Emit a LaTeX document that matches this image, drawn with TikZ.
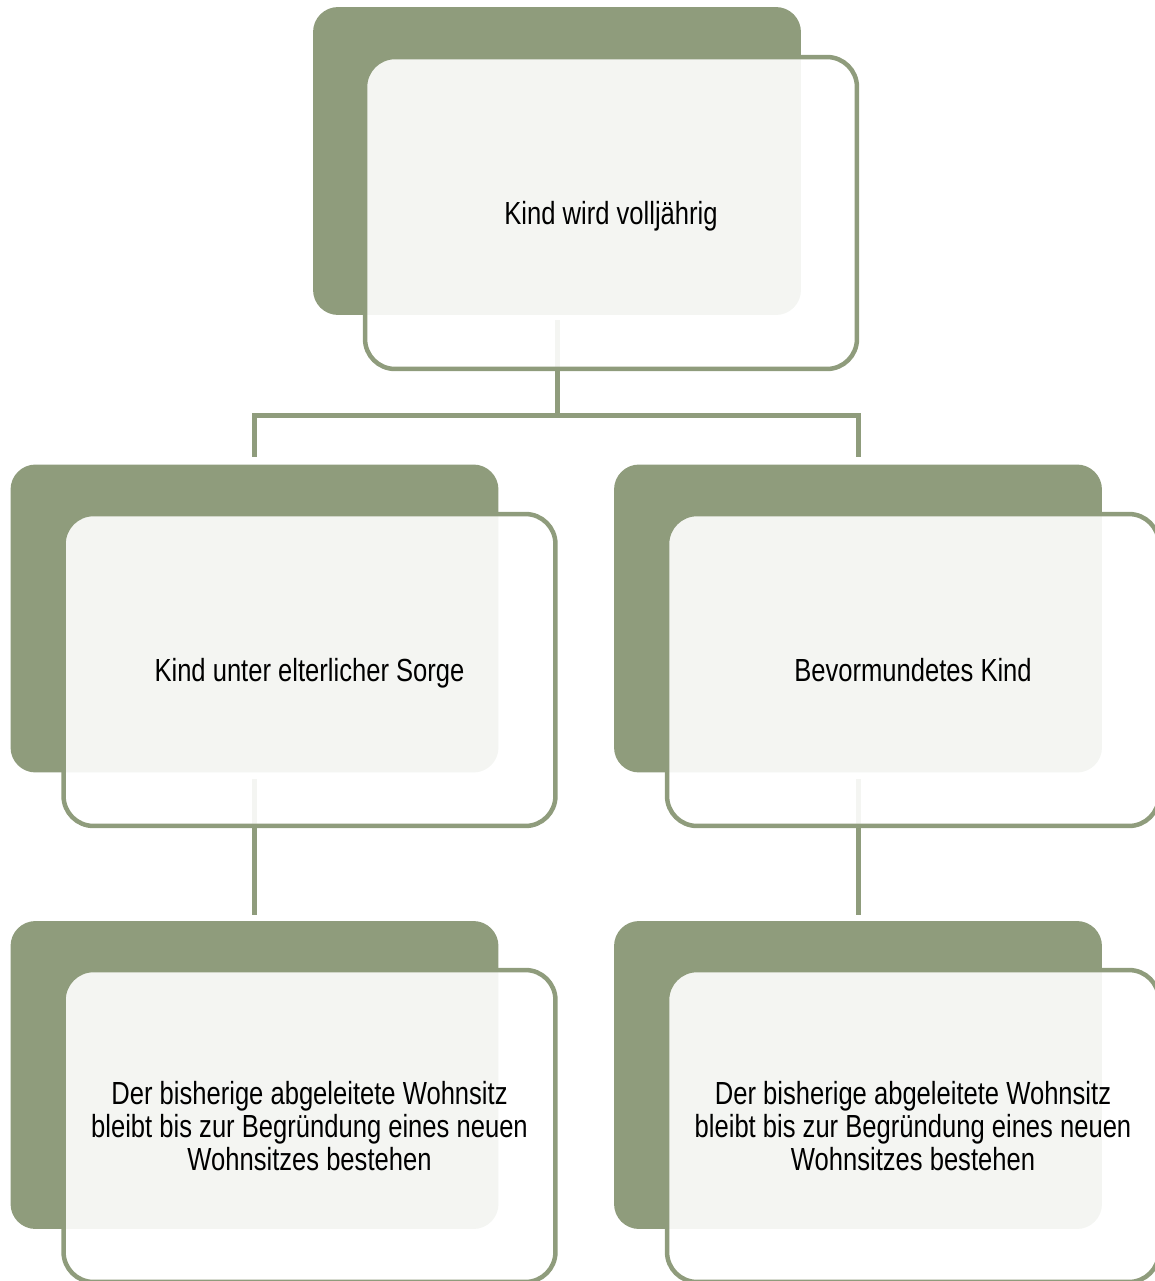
\documentclass[tikz,border=0pt]{standalone}
\usepackage{fontspec}
\setmainfont{Liberation Sans}[FakeStretch=0.8]
\usetikzlibrary{backgrounds}
\definecolor{sage}{RGB}{143,156,124}

\begin{document}
\begin{tikzpicture}[
       x=0.02cm, y=-0.02cm,
       backbox/.style={
         rectangle,
         fill=sage,
         rounded corners=0.5cm,
         minimum width=9.76cm,
         minimum height=6.16cm,
         inner sep=0pt
       },
       frontbox/.style={
         rectangle,
         draw=sage,
         line width=0.09cm,
         fill=white,
         fill opacity=0.9,
         text opacity=1,
         rounded corners=0.6cm,
         minimum width=9.84cm,
         minimum height=6.24cm,
         text depth=0pt,
         align=center,
         font=\fontsize{18.2}{18.7}\selectfont
       },
       link/.style={
         draw=sage,
         line width=0.1cm
       }
     ]

       \useasboundingbox (0,0) rectangle (1155,1281);

       \node (topback) at (557,161) [backbox]{};
       \node (top) at (611,213) [frontbox]{Kind wird volljährig};

       \node (leftback) at (254.5,618.5) [backbox]{};
       \node (left) at (309.5,670) [frontbox]{Kind unter elterlicher Sorge};

       \node (rightback) at (858,618.5) [backbox]{};
       \node (right) at (913,670) [frontbox]{Bevormundetes Kind};

       \node (leftlowback) at (254.5,1075) [backbox]{};
       \node (leftlow) at (309.5,1126) [frontbox]{Der bisherige abgeleitete Wohnsitz\\bleibt bis zur Begründung eines neuen\\Wohnsitzes bestehen};

       \node (rightlowback) at (858,1075) [backbox]{};
       \node (rightlow) at (913,1126) [frontbox]{Der bisherige abgeleitete Wohnsitz\\bleibt bis zur Begründung eines neuen\\Wohnsitzes bestehen};

       \coordinate (fork) at (557,415);

       \begin{scope}[on background layer]
         \draw[link,shorten <=0.1cm] (topback.south) -- (fork);
         \draw[link,shorten >=0.14cm] (fork) -| (leftback.north);
         \draw[link,shorten >=0.14cm] (fork) -| (rightback.north);
         \draw[link,shorten <=0.12cm,shorten >=0.12cm] (leftback.south) -- (leftlowback.north);
         \draw[link,shorten <=0.12cm,shorten >=0.12cm] (rightback.south) -- (rightlowback.north);
       \end{scope}

\end{tikzpicture}
\end{document}
